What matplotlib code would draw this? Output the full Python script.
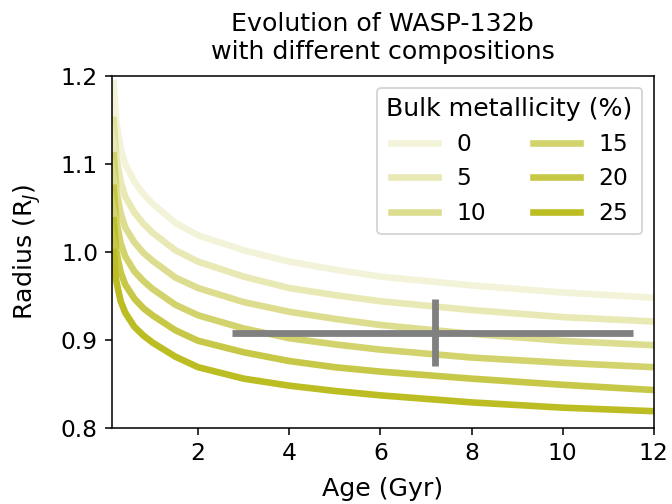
import matplotlib
matplotlib.use('Agg')
import matplotlib.pyplot as plt

ages = [0.15, 0.2, 0.3, 0.4, 0.6, 0.8, 1.0, 1.5, 2, 3, 4, 5, 6, 8, 10, 12]

# radius (R_J) for each bulk metallicity
radius_z0 = [1.192, 1.150, 1.118, 1.100, 1.080, 1.066, 1.055, 1.033, 1.019, 1.002, 0.989, 0.980, 0.972, 0.962, 0.954, 0.948]
radius_z5 = [1.150, 1.110, 1.080, 1.063, 1.045, 1.032, 1.022, 1.002, 0.989, 0.972, 0.959, 0.951, 0.944, 0.934, 0.926, 0.921]
radius_z10 = [1.110, 1.072, 1.044, 1.028, 1.011, 0.999, 0.990, 0.971, 0.959, 0.943, 0.932, 0.924, 0.917, 0.907, 0.899, 0.894]
radius_z15 = [1.073, 1.037, 1.010, 0.995, 0.978, 0.967, 0.958, 0.940, 0.928, 0.913, 0.902, 0.895, 0.889, 0.880, 0.874, 0.869]
radius_z20 = [1.036, 1.002, 0.977, 0.963, 0.947, 0.936, 0.928, 0.911, 0.899, 0.886, 0.876, 0.869, 0.864, 0.856, 0.849, 0.843]
radius_z25 = [1.000, 0.968, 0.944, 0.931, 0.915, 0.905, 0.897, 0.881, 0.869, 0.856, 0.848, 0.842, 0.837, 0.829, 0.823, 0.819]

metallicities = [0, 5, 10, 15, 20, 25]
curves = [radius_z0, radius_z5, radius_z10, radius_z15, radius_z20, radius_z25]

# observed WASP-132b
obs_age = 7.2
obs_age_err = [[4.45], [4.35]]
obs_radius = 0.908
obs_radius_err = 0.038

plt.rcParams['font.size'] = 12

fig, ax = plt.subplots(figsize=(4.8, 3.6), dpi=140)
fig.subplots_adjust(left=0.166, right=0.973, bottom=0.151, top=0.849)

n = len(curves)
for i, (z, r) in enumerate(zip(metallicities, curves)):
    ax.plot(ages, r, color='tab:olive', alpha=(i + 1) / n, lw=3.4, label=str(z))

ax.errorbar(obs_age, obs_radius, xerr=obs_age_err, yerr=obs_radius_err,
            fmt='none', ecolor='grey', elinewidth=3.5, capsize=0, zorder=5)

ax.set_xlim(0.1, 12)
ax.set_ylim(0.8, 1.2)
ax.set_xlabel('Age (Gyr)', fontsize=13, labelpad=6.5)
ax.set_ylabel('Radius (R$_J$)', fontsize=13, labelpad=9)
ax.set_title('Evolution of WASP-132b\nwith different compositions', fontsize=13, pad=9)
ax.legend(title='Bulk metallicity (%)', title_fontsize=13, ncol=2, loc='upper right')

fig.savefig('out.png', dpi=140)
